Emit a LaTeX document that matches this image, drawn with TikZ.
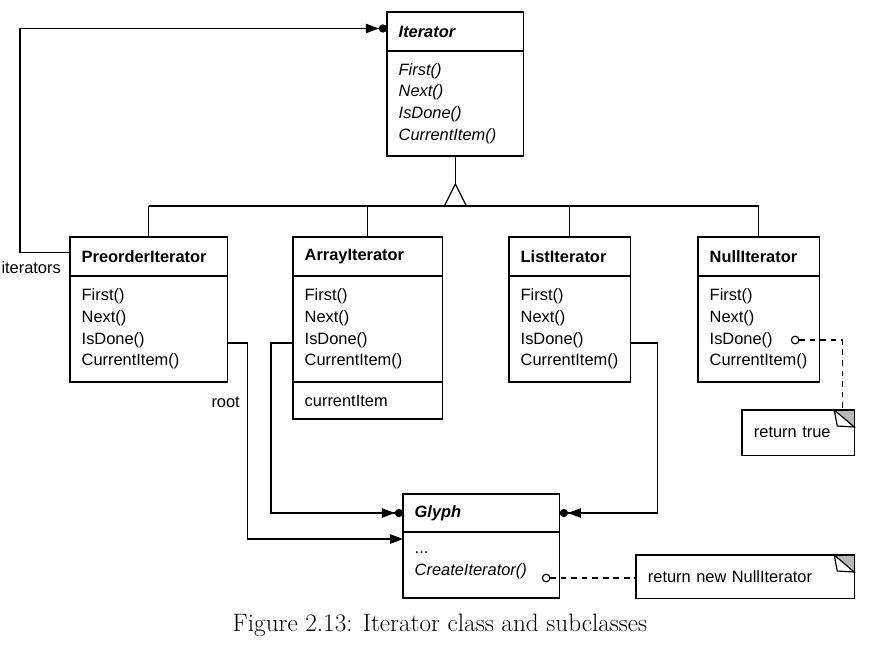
\documentclass[tikz,border=0pt]{standalone}
\usepackage{fontspec}
\setsansfont{Liberation Sans}
\usetikzlibrary{arrows.meta,calc,positioning}

\tikzset{
  classbox/.style={draw, line width=1pt, anchor=north west, inner xsep=10pt, inner ysep=0pt,
    outer sep=0pt, align=left, text width=#1, font=\sffamily\fontsize{14}{18.6}\selectfont},
  classname/.style={minimum height=1.17cm, font=\sffamily\bfseries\fontsize{14}{18.6}\selectfont},
  abstract/.style={font=\sffamily\bfseries\itshape\fontsize{14}{18.6}\selectfont},
  italicops/.style={font=\sffamily\itshape\fontsize{14}{18.6}\selectfont},
  notebox/.style={anchor=north west, inner xsep=10pt, inner ysep=0pt, align=left,
    text width=#1, font=\sffamily\fontsize{14}{18.6}\selectfont},
  link/.style={line width=1pt},
  assoc/.style={link, -{Triangle[length=11pt,width=8pt] Circle[length=7pt]}},
  refer/.style={link, -{Triangle[length=11pt,width=8pt]}},
  notelink/.style={link, dash pattern=on 5pt off 4pt, {Circle[open,length=7.5pt,width=7.5pt]}-},
}

\begin{document}
\begin{tikzpicture}[x=0.03cm, y=-0.03cm]
    % Page size
    \useasboundingbox (0,0) rectangle (877,655);

    % 1. The abstract Iterator
    \node[classbox=3.40cm, classname, abstract] (iter) at (387,12) {Iterator};
    \node[classbox=3.40cm, italicops, below=0pt of iter, minimum height=3.15cm] (iterops)
        {First()\\Next()\\IsDone()\\CurrentItem()};

    % 2. The subclasses
    \node[classbox=4.03cm, classname] (pre) at (70,237) {PreorderIterator};
    \node[classbox=4.03cm, below=0pt of pre, minimum height=3.18cm] (preops)
        {First()\\Next()\\IsDone()\\CurrentItem()};

    \node[classbox=3.79cm, classname] (arr) at (293,237) {ArrayIterator};
    \node[classbox=3.79cm, below=0pt of arr, minimum height=3.18cm] (arrops)
        {First()\\Next()\\IsDone()\\CurrentItem()};
    \node[classbox=3.79cm, below=0pt of arrops, minimum height=1.11cm] (arrvars) {currentItem};

    \node[classbox=2.95cm, classname] (list) at (509,237) {ListIterator};
    \node[classbox=2.95cm, below=0pt of list, minimum height=3.18cm] (listops)
        {First()\\Next()\\IsDone()\\CurrentItem()};

    \node[classbox=2.95cm, classname] (null) at (698,237) {NullIterator};
    \node[classbox=2.95cm, below=0pt of null, minimum height=3.18cm] (nullops)
        {First()\\Next()\\IsDone()\\CurrentItem()};

    % 3. Glyph
    \node[classbox=4.00cm, classname, abstract, minimum height=1.14cm] (glyph) at (403,494) {Glyph};
    \node[classbox=4.00cm, below=0pt of glyph, minimum height=1.98cm] (glyphops)
        {...\\\textit{CreateIterator()}};

    % 4. Inheritance
    \draw[link] (iterops.south) -- ++(0,28) coordinate (apex);
    \draw[link] (apex) -- ++(-11,22) coordinate (base) -- ++(22,0) -- cycle;
    \draw[link] (pre.north |- base) -- (null.north |- base);
    \draw[link] (pre.north |- base) -- (pre.north);
    \draw[link] (arr.north |- base) -- (arr.north);
    \draw[link] (list.north |- base) -- (list.north);
    \draw[link] (null.north |- base) -- (null.north);

    % 5. Associations
    \draw[assoc] ($(pre.west)+(0,-4)$) -- ++(-50,0) |- ($(iter.west)+(0,-3)$);
    \node[anchor=east, inner sep=0pt, font=\sffamily\fontsize{14}{18.6}\selectfont] (itlabel) at (61,268) {iterators};

    \draw[refer] ($(preops.east)+(0,14)$) -- ++(20,0)
        |- node[pos=0.15, left, xshift=-3pt, font=\sffamily\fontsize{14}{18.6}\selectfont] (rootlabel) {root}
        ($(glyphops.north west)+(0,7)$);
    \draw[assoc] ($(arrops.west)+(0,14)$) -- ++(-22,0) |- (glyph.west);
    \draw[assoc] ($(listops.east)+(0,14)$) -- ++(27,0) |- (glyph.east);

    % 6. Notes
    \node[notebox=2.65cm, minimum height=1.35cm] (truenote) at (742,410) {return true};
    \fill[gray!55] ($(truenote.north east)+(-20,0)$) -- (truenote.north east) -- ($(truenote.north east)+(0,17)$) -- cycle;
    \draw[link, fill=white] ($(truenote.north east)+(-20,0)$) -- ($(truenote.north east)+(0,17)$) -- ($(truenote.north east)+(-17,16)$) -- cycle;
    \draw[link] (truenote.north west) rectangle (truenote.south east);

    \node[notebox=5.83cm, minimum height=1.29cm] (newnote) at (636,555) {return new NullIterator};
    \fill[gray!55] ($(newnote.north east)+(-20,0)$) -- (newnote.north east) -- ($(newnote.north east)+(0,17)$) -- cycle;
    \draw[link, fill=white] ($(newnote.north east)+(-20,0)$) -- ($(newnote.north east)+(0,17)$) -- ($(newnote.north east)+(-17,16)$) -- cycle;
    \draw[link] (newnote.north west) rectangle (newnote.south east);

    \coordinate (isdone) at ($(nullops.east)+(-29,11)$);
    \draw[notelink] (isdone) -| ($(truenote.north east)+(-12,0)$);
    \coordinate (create) at ($(glyphops.east)+(-18,13)$);
    \draw[notelink] (create) -- (create -| newnote.west);

    % 7. Caption
    \node[font=\rmfamily\fontsize{21.5}{25}\selectfont] (caption) at (440,625)
        {Figure 2.13: Iterator class and subclasses};

\end{tikzpicture}
\end{document}
